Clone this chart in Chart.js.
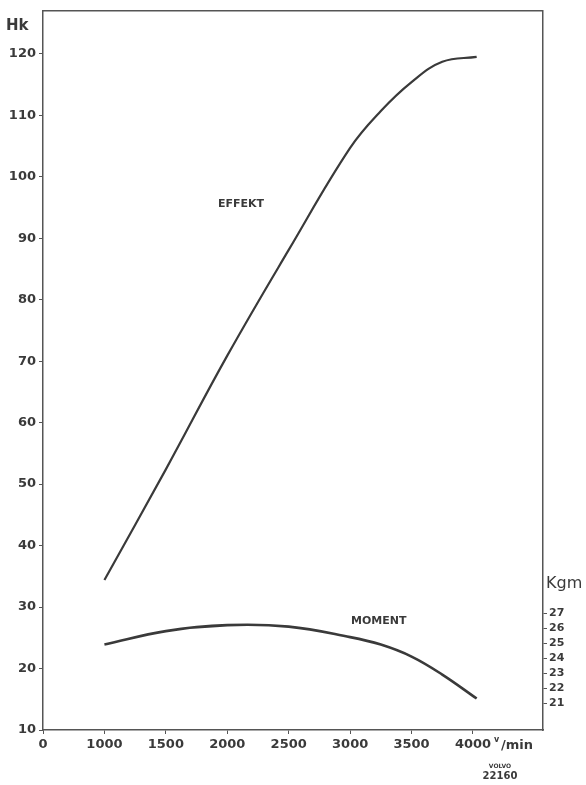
<!DOCTYPE html>
<html lang="sv">
<head>
  <meta charset="UTF-8" />
  <title>Effekt och moment</title>
  <script src="https://cdn.jsdelivr.net/npm/chart.js"></script>
  <style>
    body { margin: 0; background: #fff; }
    canvas { display: block; }
  </style>
</head>
<body>
  <canvas id="motorChart" width="586" height="785"></canvas>

  <script>
    // varvtal (v/min) där kurvorna avlästs
    const rpm = [1000, 1500, 2000, 2500, 3000, 3250, 3500, 3750, 4030];
    // effekt i Hk (vänster axel)
    const effekt = [34.4, 52.4, 70.9, 88.1, 104.7, 110.7, 115.4, 118.7, 119.5];
    // vridmoment i Kgm (höger axel)
    const moment = [24.9, 25.8, 26.2, 26.1, 25.4, 24.9, 24.1, 22.9, 21.3];

    // axelmarkeringar; 500 på skalan visas som "0" (bruten axel)
    const xTicks = [500, 1000, 1500, 2000, 2500, 3000, 3500, 4000];
    const hkTicks = [10, 20, 30, 40, 50, 60, 70, 80, 90, 100, 110, 120];
    const kgmTicks = [21, 22, 23, 24, 25, 26, 27];

    const ink = '#3a3a3a';
    const font = { family: 'DejaVu Sans', size: 12, weight: 'bold' };

    // ram runt diagrammet och texter
    const annotations = {
      id: 'annotations',
      afterDraw(chart) {
        const { ctx, chartArea: a } = chart;
        ctx.save();
        ctx.strokeStyle = '#555';
        ctx.lineWidth = 1.5;
        ctx.beginPath();
        ctx.moveTo(a.left, a.top);
        ctx.lineTo(a.right, a.top);
        ctx.stroke();

        ctx.fillStyle = ink;
        ctx.textBaseline = 'middle';
        ctx.font = 'bold 15px "DejaVu Sans"';
        ctx.fillText('Hk', 6, 26);
        ctx.font = '16px "DejaVu Sans"';
        ctx.fillText('Kgm', 546, 584);

        ctx.font = 'bold 11px "DejaVu Sans"';
        ctx.fillText('EFFEKT', 218, 204);
        ctx.fillText('MOMENT', 351, 621);

        // v/min efter sista markeringen
        ctx.font = 'bold 8px "DejaVu Sans"';
        ctx.fillText('v', 494, 740);
        ctx.font = 'bold 13px "DejaVu Sans"';
        ctx.fillText('/min', 501, 746);

        ctx.textAlign = 'center';
        ctx.font = 'bold 6px "DejaVu Sans"';
        ctx.fillText('VOLVO', 500, 766);
        ctx.font = 'bold 10px "DejaVu Sans"';
        ctx.fillText('22160', 500, 776);
        ctx.restore();
      }
    };

    const ctx = document.getElementById('motorChart').getContext('2d');
    new Chart(ctx, {
      type: 'line',
      data: {
        datasets: [
          {
            label: 'Effekt',
            data: rpm.map((r, i) => ({ x: r, y: effekt[i] })),
            yAxisID: 'y',
            borderColor: ink,
            borderWidth: 2.2,
            pointRadius: 0,
            tension: 0.4,
            fill: false
          },
          {
            label: 'Moment',
            data: rpm.map((r, i) => ({ x: r, y: moment[i] })),
            yAxisID: 'kgm',
            borderColor: ink,
            borderWidth: 2.6,
            pointRadius: 0,
            tension: 0.4,
            fill: false
          }
        ]
      },
      options: {
        responsive: false,
        animation: false,
        layout: { padding: { top: 10, left: 0, right: 0, bottom: 0 } },
        plugins: {
          legend: { display: false },
          tooltip: { enabled: false }
        },
        scales: {
          x: {
            type: 'linear',
            min: 500,
            max: 4570,
            afterBuildTicks: s => { s.ticks = xTicks.map(v => ({ value: v })); },
            afterFit: s => { s.height = 55; },
            border: { display: true, color: '#555', width: 1.5 },
            grid: { display: true, drawOnChartArea: false, drawTicks: true, tickLength: 4, color: '#555' },
            ticks: {
              color: ink,
              font: { ...font, size: 13 },
              padding: 3,
              maxRotation: 0,
              callback: v => (v === 500 ? '0' : String(v))
            }
          },
          y: {
            position: 'left',
            min: 10,
            max: 127,
            afterBuildTicks: s => { s.ticks = hkTicks.map(v => ({ value: v })); },
            afterFit: s => { s.width = 43; },
            border: { display: true, color: '#555', width: 1.5 },
            grid: { display: true, drawOnChartArea: false, drawTicks: true, tickLength: 4, color: '#555' },
            ticks: { color: ink, font: { ...font, size: 13 }, padding: 3 }
          },
          kgm: {
            position: 'right',
            min: 19.2,
            max: 67.2,
            afterBuildTicks: s => { s.ticks = kgmTicks.map(v => ({ value: v })); },
            afterFit: s => { s.width = 43; },
            border: { display: true, color: '#555', width: 1.5 },
            grid: { display: true, drawOnChartArea: false, drawTicks: true, tickLength: 4, color: '#555' },
            ticks: { color: ink, font: { ...font, size: 11 }, padding: 2 }
          }
        }
      },
      plugins: [annotations]
    });
  </script>
</body>
</html>
